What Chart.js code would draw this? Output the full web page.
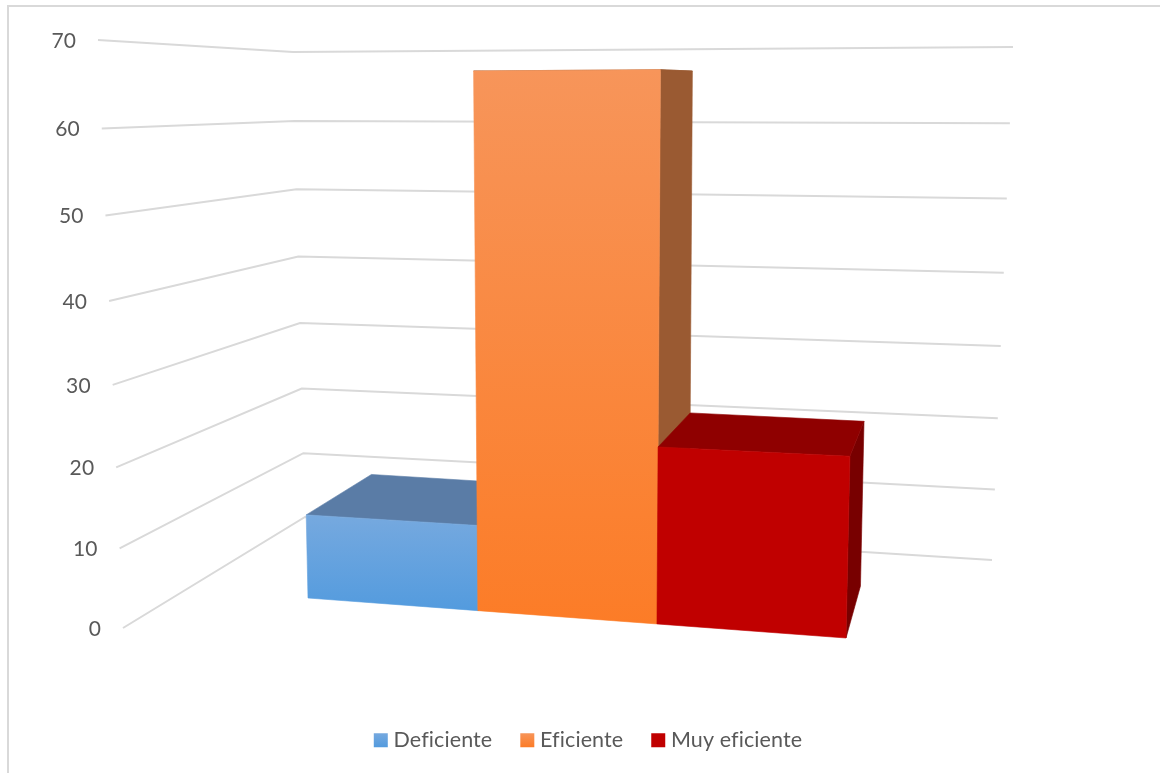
<!DOCTYPE html>
<html>
<head>
<meta charset="utf-8">
<title>Grafico</title>
<script src="https://cdn.jsdelivr.net/npm/chart.js@4"></script>
<style>
    html, body { margin: 0; padding: 0; background: #fff; overflow: hidden; }
    #frame { position: absolute; left: 7px; top: 5px; width: 1160px; height: 780px; border-left: 2px solid #d9d9d9; border-top: 2px solid #d9d9d9; }
    #wrap { position: absolute; left: 0; top: 0; width: 1160px; height: 773px; }
</style>
</head>
<body>
<div id="frame"></div>
<div id="wrap"><canvas id="chart"></canvas></div>
<script>
    var categories = [''];
    var seriesNames = ['Deficiente', 'Eficiente', 'Muy eficiente'];
    var deficiente = [10.8];
    var eficiente = [66];
    var muyEficiente = [21.7];
    var yTicks = [0, 10, 20, 30, 40, 50, 60, 70];

    // perspective of the 3D view, page pixels
    var frontPlane = [[308, 598], [846, 638], [296, 39], [859, 32]]; // bottom left, bottom right, top left, top right
    var vanish = [1000, 85];
    var depth = 0.094;
    var wallLeft = { low: [123, 628], high: [98, 40], bend: -0.06 };
    var wallCorner = { low: [305, 517], high: [293, 52], bend: -0.045 };
    var wallRight = { low: [992, 560], high: [1013, 47], bend: -0.045 };

    var colors = [
        { top: '#5a7ca6', side: '#4c6d96', from: '#76a9df', to: '#539bde' },
        { top: '#9a5a32', side: '#9a5a32', from: '#f7955a', to: '#fc7c27' },
        { top: '#8f0000', side: '#780000', from: '#c00000', to: '#c00000' }
    ];

    function makeHomography(q) {
        var sx = q[0][0] - q[1][0] - q[2][0] + q[3][0];
        var sy = q[0][1] - q[1][1] - q[2][1] + q[3][1];
        var d1x = q[1][0] - q[3][0], d1y = q[1][1] - q[3][1];
        var d2x = q[2][0] - q[3][0], d2y = q[2][1] - q[3][1];
        var den = d1x * d2y - d2x * d1y;
        var a = (sx * d2y - d2x * sy) / den;
        var b = (d1x * sy - sx * d1y) / den;
        return function (u, v) {
            var w = 1 + a * u + b * v;
            return [
                (q[0][0] + (q[1][0] * (1 + a) - q[0][0]) * u + (q[2][0] * (1 + b) - q[0][0]) * v) / w,
                (q[0][1] + (q[1][1] * (1 + a) - q[0][1]) * u + (q[2][1] * (1 + b) - q[0][1]) * v) / w
            ];
        };
    }
    var toFront = makeHomography(frontPlane);

    function toBack(p) {
        return [p[0] + (vanish[0] - p[0]) * depth, p[1] + (vanish[1] - p[1]) * depth];
    }

    function onWall(col, t) {
        var w = 1 + col.bend * t;
        return [
            (col.low[0] + (col.high[0] * (1 + col.bend) - col.low[0]) * t) / w,
            (col.low[1] + (col.high[1] * (1 + col.bend) - col.low[1]) * t) / w
        ];
    }

    function poly(ctx, pts, fill) {
        ctx.beginPath();
        pts.forEach(function (p, i) { i ? ctx.lineTo(p[0], p[1]) : ctx.moveTo(p[0], p[1]); });
        ctx.closePath();
        ctx.fillStyle = fill;
        ctx.fill();
        // closes the hairline seams between faces
        ctx.strokeStyle = fill;
        ctx.lineWidth = 0.6;
        ctx.stroke();
    }

    var view3d = {
        id: 'view3d',
        // the reference has no fi ligature, a small spacing turns it off
        beforeLayout: function (chart) { chart.ctx.letterSpacing = '0.1px'; },
        beforeDraw: function (chart) { chart.ctx.letterSpacing = '0.1px'; },
        beforeDatasetsDraw: function (chart) {
            var ctx = chart.ctx, area = chart.chartArea, yScale = chart.scales.y;
            ctx.save();

            // walls and value labels
            yScale.ticks.forEach(function (tick) {
                var t = (area.bottom - yScale.getPixelForValue(tick.value)) / area.height;
                var a = onWall(wallLeft, t), b = onWall(wallCorner, t), c = onWall(wallRight, t);
                ctx.beginPath();
                ctx.moveTo(a[0], a[1]);
                ctx.lineTo(b[0], b[1]);
                ctx.lineTo(c[0], c[1]);
                ctx.strokeStyle = '#d9d9d9';
                ctx.lineWidth = 2;
                ctx.stroke();
                ctx.fillStyle = '#595959';
                ctx.font = '21px Lato';
                ctx.textAlign = 'right';
                ctx.textBaseline = 'middle';
                ctx.fillText(tick.label, a[0] - 22, a[1] + 1);
            });

            // bars
            chart.data.datasets.forEach(function (ds, i) {
                var bar = chart.getDatasetMeta(i).data[0];
                var u0 = (bar.x - bar.width / 2 - area.left) / area.width;
                var u1 = (bar.x + bar.width / 2 - area.left) / area.width;
                var v = (area.bottom - bar.y) / area.height;
                var bl = toFront(u0, 0), br = toFront(u1, 0), tl = toFront(u0, v), tr = toFront(u1, v);
                var grad = ctx.createLinearGradient(0, Math.min(tl[1], tr[1]), 0, Math.max(bl[1], br[1]));
                grad.addColorStop(0, colors[i].from);
                grad.addColorStop(1, colors[i].to);
                poly(ctx, [tr, toBack(tr), toBack(br), br], colors[i].side);
                poly(ctx, [tl, tr, toBack(tr), toBack(tl)], colors[i].top);
                poly(ctx, [tl, tr, br, bl], grad);
            });

            ctx.restore();
            return false;
        }
    };

    var canvas = document.getElementById('chart');
    var ctx = canvas.getContext('2d');

    function swatch(c) {
        var g = ctx.createLinearGradient(0, 733, 0, 747);
        g.addColorStop(0, c.from);
        g.addColorStop(1, c.to);
        return g;
    }

    function seriesSet(i, values) {
        // bars are drawn by view3d, these styles only reach the legend box
        // (thick border on a small box keeps the label close to the swatch)
        return {
            label: seriesNames[i],
            data: values,
            backgroundColor: swatch(colors[i]),
            borderColor: swatch(colors[i]),
            borderWidth: 10
        };
    }

    new Chart(ctx, {
        type: 'bar',
        data: {
            labels: categories,
            datasets: [seriesSet(0, deficiente), seriesSet(1, eficiente), seriesSet(2, muyEficiente)]
        },
        options: {
            responsive: true,
            maintainAspectRatio: false,
            animation: false,
            layout: { padding: { left: 21, bottom: 12 } },
            datasets: { bar: { categoryPercentage: 1, barPercentage: 1 } },
            scales: {
                x: { display: false },
                y: {
                    display: false,
                    min: yTicks[0],
                    max: yTicks[yTicks.length - 1],
                    ticks: { stepSize: 10 }
                }
            },
            plugins: {
                tooltip: { enabled: false },
                legend: {
                    position: 'bottom',
                    labels: {
                        boxWidth: 4,
                        boxHeight: 4,
                        padding: 33,
                        color: '#595959',
                        font: { family: 'Lato', size: 21.5 }
                    }
                }
            }
        },
        plugins: [view3d]
    });
</script>
</body>
</html>
